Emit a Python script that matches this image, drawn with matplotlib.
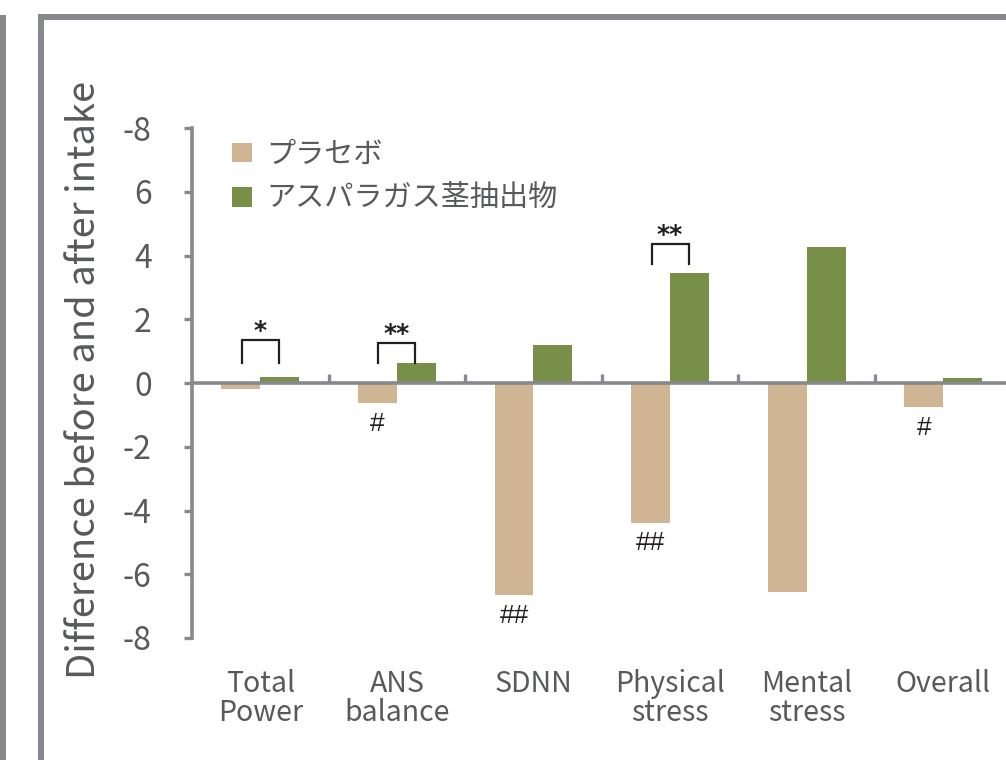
import matplotlib
matplotlib.use("Agg")
import matplotlib.pyplot as plt
from matplotlib.lines import Line2D

# --- data -------------------------------------------------------------
categories = ["Total\nPower", "ANS\nbalance", "SDNN", "Physical\nstress", "Mental\nstress", "Overall"]
placebo = [-0.18, -0.63, -6.66, -4.38, -6.56, -0.75]
extract = [0.20, 0.62, 1.19, 3.44, 4.28, 0.16]
series_names = ["プラセボ", "アスパラガス茎抽出物"]
ytick_values = [8, 6, 4, 2, 0, -2, -4, -6, -8]
ytick_labels = ["-8", "6", "4", "2", "0", "-2", "-4", "-6", "-8"]
ylabel = "Difference before and after intake"

# significance between groups: (category index, mark, bracket bottom, bracket top)
between = [(0, "*", 0.63, 1.35), (1, "**", 0.62, 1.27), (3, "**", 3.73, 4.36)]
# significance within placebo group: (category index, mark)
within = [(1, "#"), (2, "##"), (3, "##"), (5, "#")]

# --- style ------------------------------------------------------------
C_PLACEBO = "#CFB594"
C_EXTRACT = "#778F47"
C_AXIS = "#88898C"
C_TEXT = "#58595B"
C_MARK = "#231F20"
JP = ["Noto Sans CJK JP", "DejaVu Sans"]

W, H = 1006, 760
fig = plt.figure(figsize=(W / 100, H / 100), dpi=100)
fig.patch.set_facecolor("white")


def fx(px):
    return px / W


def fy(py):
    return 1 - py / H


# panel frame lines
frame_lw = 6 * 72 / 100
for xs, ys in [((41, 41), (17, H + 10)), ((41, W + 10), (17, 17)),
               ((3, 3), (18, H + 10)), ((-10, 3), (18, 18))]:
    fig.add_artist(Line2D([fx(xs[0]), fx(xs[1])], [fy(ys[0]), fy(ys[1])], color=C_AXIS,
                          lw=frame_lw, solid_capstyle="projecting", transform=fig.transFigure))

cat_px = 136.6
n = len(categories)
ax = fig.add_axes([192 / W, (H - 638) / H, n * cat_px / W, 510 / H])
ax.set_xlim(0, n)
ax.set_ylim(-8, 8)

centers = [i + 0.5 for i in range(n)]
bw = 0.285
ax.bar([c - bw / 2 for c in centers], placebo, width=bw, color=C_PLACEBO, zorder=2,
       label=series_names[0])
ax.bar([c + bw / 2 for c in centers], extract, width=bw, color=C_EXTRACT, zorder=2,
       label=series_names[1])

# zero line and category separators
ax.axhline(0, color=C_AXIS, lw=2.6, zorder=3)
ax.vlines(range(1, n), 0, 0.29, color=C_AXIS, lw=2.4, zorder=3)

for s in ["top", "right", "bottom"]:
    ax.spines[s].set_visible(False)
ax.spines["left"].set_color(C_AXIS)
ax.spines["left"].set_linewidth(2.6)
ax.spines["left"].set_bounds(-8, 8)

ax.set_yticks(ytick_values)
ax.set_yticklabels(ytick_labels, family=JP, fontsize=23, color=C_TEXT)
ax.tick_params(axis="y", direction="out", length=6, width=2.4, color=C_AXIS, pad=23)

ax.set_xticks(centers)
ax.set_xticklabels(categories, family=JP, fontsize=20.5, color=C_TEXT, linespacing=0.98)
ax.tick_params(axis="x", length=0, pad=22)

fig.text(fx(85), fy(380), ylabel, rotation=90, ha="center", va="center",
         family=JP, fontsize=27.5, color=C_TEXT)

# brackets with significance marks
off = 0.135
for i, mark, lo, hi in between:
    c = centers[i]
    ax.plot([c - off, c - off, c + off, c + off], [lo, hi, hi, lo], color=C_MARK, lw=1.6,
            solid_joinstyle="miter", zorder=4)
    ax.text(c, hi + 0.05, mark, ha="center", va="baseline", fontsize=18, fontweight="bold",
            family="DejaVu Sans", color=C_MARK)

for i, mark in within:
    c = centers[i] - bw / 2
    ax.text(c, placebo[i] - 0.27, mark, ha="center", va="top", fontsize=19,
            family="Liberation Sans", color=C_MARK)

leg = ax.legend(loc="upper left", bbox_to_anchor=(0.035, 1.0), frameon=False,
                prop={"family": JP, "size": 21}, handlelength=0.66, handleheight=0.66,
                handletextpad=0.5, labelspacing=0.5, borderaxespad=0)
for t in leg.get_texts():
    t.set_color(C_TEXT)

fig.savefig("out.png", dpi=100, facecolor="white")
